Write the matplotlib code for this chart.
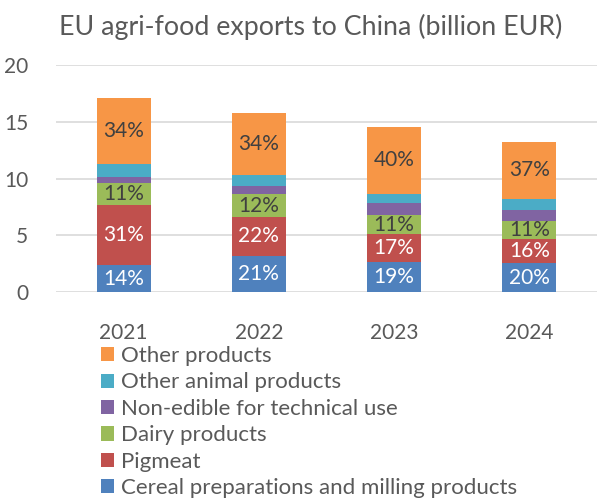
import matplotlib
matplotlib.use("Agg")
import matplotlib.pyplot as plt
import numpy as np

plt.rcParams["font.family"] = ["Lato", "DejaVu Sans"]

YEARS = ["2021", "2022", "2023", "2024"]

SERIES = [
    "Cereal preparations and milling products",
    "Pigmeat",
    "Dairy products",
    "Non-edible for technical use",
    "Other animal products",
    "Other products",
]

cereal = [2.40, 3.22, 2.69, 2.60]
pigmeat = [5.28, 3.43, 2.44, 2.13]
dairy = [1.96, 1.97, 1.67, 1.55]
non_edible = [0.53, 0.76, 1.05, 1.00]
other_animal = [1.11, 0.94, 0.82, 0.96]
other = [5.78, 5.42, 5.87, 4.96]

cereal_pct = ["14%", "21%", "19%", "20%"]
pigmeat_pct = ["31%", "22%", "17%", "16%"]
dairy_pct = ["11%", "12%", "11%", "11%"]
other_pct = ["34%", "34%", "40%", "37%"]

COLORS = ["#4f81bd", "#c0504d", "#9bbb59", "#8064a2", "#4bacc6", "#f79646"]
TEXT = "#595959"


def main():
    fig = plt.figure(figsize=(5.97, 5.01), dpi=100)
    ax = fig.add_axes([56 / 597, 208.7 / 501, 541 / 597, 227.3 / 501])

    values = [cereal, pigmeat, dairy, non_edible, other_animal, other]
    labels = [cereal_pct, pigmeat_pct, dairy_pct, None, None, other_pct]
    label_colors = ["white", "white", "#404040", None, None, "#404040"]

    x = np.arange(len(YEARS))
    bottom = np.zeros(len(YEARS))
    handles = []
    for name, vals, color, lab, lc in zip(SERIES, values, COLORS, labels, label_colors):
        vals = np.array(vals)
        bars = ax.bar(x, vals, 0.4, bottom=bottom, color=color, label=name, zorder=3)
        handles.append(bars)
        if lab is not None:
            for xi, b, v, t in zip(x, bottom, vals, lab):
                ax.text(xi, b + v / 2, t, ha="center", va="center",
                        color=lc, fontsize=15, zorder=4)
        bottom = bottom + vals

    ax.set_xlim(-0.5, 3.5)
    ax.set_ylim(0, 20)
    ax.set_yticks([0, 5, 10, 15, 20])
    ax.set_xticks(x)
    ax.set_xticklabels(YEARS)
    ax.yaxis.grid(True, color="#d9d9d9", linewidth=1.2, zorder=0)
    for s in ax.spines.values():
        s.set_visible(False)
    ax.tick_params(length=0, labelsize=15, labelcolor=TEXT)
    ax.tick_params(axis="x", pad=22)
    ax.tick_params(axis="y", pad=20)

    fig.text(0.5 + 12 / 597, 1 - 27 / 501, "EU agri-food exports to China (billion EUR)",
             ha="center", va="center", fontsize=19.3, color=TEXT)

    leg = fig.legend(handles[::-1], SERIES[::-1], loc="upper left",
                     bbox_to_anchor=(101 / 597, 1 - 346 / 501), frameon=False,
                     fontsize=16, handlelength=0.6, handleheight=0.6,
                     handletextpad=0.3, labelspacing=0.29, borderpad=0,
                     borderaxespad=0)
    for t in leg.get_texts():
        t.set_color(TEXT)

    fig.savefig("out.png", dpi=100)
    plt.close(fig)


if __name__ == "__main__":
    main()
